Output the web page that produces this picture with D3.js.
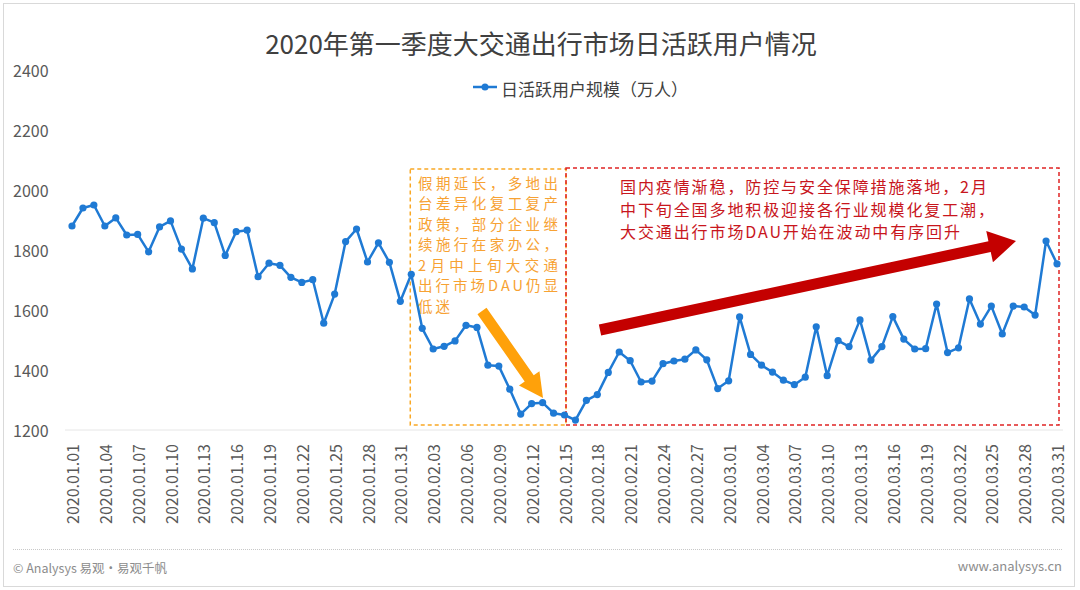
<!DOCTYPE html>
<meta charset="utf-8">
<style>
body { margin: 0; background: #fff; font-family: "Noto Sans CJK SC", "Noto Sans", sans-serif; }
text { font-family: "Noto Sans CJK SC", "Noto Sans", sans-serif; }
</style>
<svg width="1080" height="590"></svg>
<script src="https://cdn.jsdelivr.net/npm/d3@7/dist/d3.min.js"></script>
<script>

// daily active users (10k), 2020.01.01 - 2020.03.31
var janValues = [1880, 1940, 1950, 1880, 1907, 1850, 1852, 1794, 1877, 1897, 1803, 1737, 1906, 1891, 1782, 1861,
                 1866, 1711, 1756, 1749, 1709, 1692, 1701, 1556, 1653, 1828, 1870, 1760, 1824, 1759, 1629];
var febValues = [1719, 1539, 1470, 1479, 1497, 1549, 1542, 1416, 1413, 1336, 1253, 1288, 1291, 1256, 1250, 1233,
                 1299, 1318, 1392, 1460, 1431, 1360, 1363, 1421, 1430, 1436, 1467, 1434, 1338];
var marValues = [1364, 1577, 1452, 1416, 1393, 1366, 1351, 1376, 1544, 1381, 1498, 1478, 1567, 1433, 1478, 1578,
                 1503, 1470, 1471, 1620, 1458, 1474, 1637, 1553, 1613, 1520, 1613, 1610, 1583, 1830, 1754];
var values = janValues.concat(febValues, marValues);

var fmt = d3.timeFormat("%Y.%m.%d");
var dates = d3.timeDay.range(new Date(2020, 0, 1), new Date(2020, 3, 1)).map(fmt);
var yTicks = [1200, 1400, 1600, 1800, 2000, 2200, 2400];

var title = "2020年第一季度大交通出行市场日活跃用户情况";
var seriesName = "日活跃用户规模（万人）";
var noteLeft = ["假期延长，多地出", "台差异化复工复产", "政策，部分企业继", "续施行在家办公，",
                "2月中上旬大交通", "出行市场DAU仍显", "低迷"];
var noteRight = ["国内疫情渐稳，防控与安全保障措施落地，2月", "中下旬全国多地积极迎接各行业规模化复工潮，",
                 "大交通出行市场DAU开始在波动中有序回升"];

var svg = d3.select("svg");
var blue = "#1f7ad4", orange = "#ffa10a", red = "#c40000";

// frame
svg.append("rect").attr("x", 3.5).attr("y", 3.5).attr("width", 1071).attr("height", 583)
    .attr("fill", "#fff").attr("stroke", "#d9d9d9");

var x = d3.scalePoint().domain(dates).range([72, 1057]);
var y = d3.scaleLinear().domain([1200, 2400]).range([430, 70]);

// title & legend
svg.append("text").attr("x", 541).attr("y", 42).attr("text-anchor", "middle")
    .attr("dominant-baseline", "central").style("font-size", "26px").attr("fill", "#404040").text(title);

var lg = svg.append("g");
lg.append("line").attr("x1", 473).attr("x2", 497).attr("y1", 87).attr("y2", 87)
    .attr("stroke", blue).attr("stroke-width", 2.5);
lg.append("circle").attr("cx", 485).attr("cy", 87).attr("r", 3.5).attr("fill", blue);
lg.append("text").attr("x", 501).attr("y", 88).attr("dominant-baseline", "central")
    .style("font-size", "17px").attr("fill", "#404040").text(seriesName);

// y labels
svg.append("g").selectAll("text").data(yTicks).enter().append("text")
    .attr("x", 13).attr("y", function(d) { return y(d); })
    .attr("dominant-baseline", "central").style("font-size", "16px").attr("fill", "#595959")
    .text(function(d) { return d; });

// base line
svg.append("line").attr("x1", 65).attr("x2", 1063).attr("y1", y(1200)).attr("y2", y(1200))
    .attr("stroke", "#e6e6e6").attr("stroke-width", 1);

// x labels, every third day
svg.append("g").selectAll("text").data(dates.filter(function(d, i) { return i % 3 === 0; }))
    .enter().append("text")
    .attr("transform", function(d) { return "translate(" + x(d) + ",444) rotate(-90)"; })
    .attr("text-anchor", "end").attr("dominant-baseline", "central")
    .style("font-size", "16px").attr("fill", "#595959")
    .text(function(d) { return d; });

// annotation boxes
var bx0 = x(dates[31]) - 1, bx1 = x(dates[45]) + 1.5, bx2 = x(dates[90]) + 2;
svg.append("rect").attr("x", bx0).attr("y", 169).attr("width", bx1 - bx0).attr("height", 256)
    .attr("fill", "none").attr("stroke", "#f9a825").attr("stroke-width", 1.5).attr("stroke-dasharray", "4,3");
svg.append("rect").attr("x", bx1).attr("y", 168).attr("width", bx2 - bx1).attr("height", 257)
    .attr("fill", "none").attr("stroke", "#e02424").attr("stroke-width", 1.5).attr("stroke-dasharray", "4,3");

// series
var pts = values.map(function(v, i) { return [x(dates[i]), y(v)]; });
svg.append("path").datum(pts).attr("d", d3.line())
    .attr("fill", "none").attr("stroke", blue).attr("stroke-width", 2.5).attr("stroke-linejoin", "round");
svg.append("g").selectAll("circle").data(values).enter().append("circle")
    .attr("cx", function(d, i) { return x(dates[i]); })
    .attr("cy", function(d) { return y(d); })
    .attr("r", 3.6).attr("fill", blue);

// arrows
function arrow(x1, y1, x2, y2, sw, hw, hl, color) {
  var dx = x2 - x1, dy = y2 - y1, len = Math.sqrt(dx * dx + dy * dy);
  var ux = dx / len, uy = dy / len, px = -uy, py = ux;
  var bx = x2 - ux * hl, by = y2 - uy * hl;
  var p = [
    [x1 + px * sw / 2, y1 + py * sw / 2], [bx + px * sw / 2, by + py * sw / 2],
    [bx + px * hw / 2, by + py * hw / 2], [x2, y2],
    [bx - px * hw / 2, by - py * hw / 2], [bx - px * sw / 2, by - py * sw / 2],
    [x1 - px * sw / 2, y1 - py * sw / 2]
  ];
  svg.append("polygon").attr("points", p.map(function(d) { return d.join(","); }).join(" ")).attr("fill", color);
}
arrow(482, 311, 543, 398, 11, 25, 24, orange);
arrow(600, 330, 1016, 241, 11, 32, 27, red);

// notes: one text block each, lines as tspans
var nl = svg.append("text").attr("y", 188.5).style("font-size", "14.5px").attr("fill", "#f7a233");
nl.selectAll("tspan").data(noteLeft).enter().append("tspan")
    .attr("x", 418).attr("dy", function(d, i) { return i ? 20.5 : 0; })
    .each(function(d) {
      var t = d3.select(this);
      if (d.length >= 8) t.attr("textLength", 140).attr("lengthAdjust", "spacing");
      else t.style("letter-spacing", "3px");
    })
    .text(function(d) { return d; });

var nr = svg.append("text").attr("y", 193).style("font-size", "16px").style("letter-spacing", "1.9px")
    .attr("fill", "#c8161d");
nr.selectAll("tspan").data(noteRight).enter().append("tspan")
    .attr("x", 620).attr("dy", function(d, i) { return i ? 22.5 : 0; })
    .text(function(d) { return d; });

// footer
svg.append("line").attr("x1", 13).attr("x2", 1062).attr("y1", 549.5).attr("y2", 549.5)
    .attr("stroke", "#c8c8c8").attr("stroke-dasharray", "1,1");
svg.append("text").attr("x", 13).attr("y", 567).attr("dominant-baseline", "central")
    .style("font-size", "12.5px").attr("fill", "#8c8c8c").text("© Analysys 易观·易观千帆");
svg.append("text").attr("x", 1062).attr("y", 565).attr("text-anchor", "end").attr("dominant-baseline", "central")
    .style("font-size", "13px").attr("fill", "#8c8c8c").text("www.analysys.cn");

</script>
